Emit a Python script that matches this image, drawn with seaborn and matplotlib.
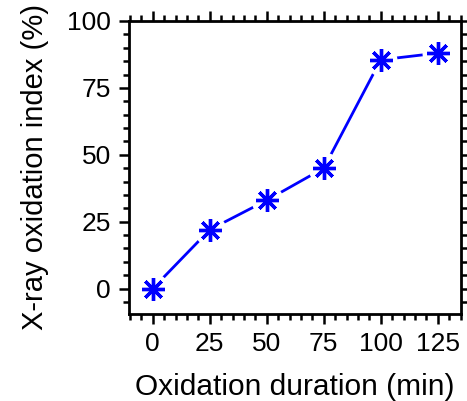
import matplotlib
matplotlib.use("Agg")
import matplotlib.pyplot as plt
from matplotlib.ticker import MultipleLocator
import seaborn as sns
import pandas as pd

# Oxidation series
duration_min = [0, 25, 50, 75, 100, 125]
oxidation_index = [0, 22, 33, 45, 85.5, 88]

x_ticks = [0, 25, 50, 75, 100, 125]
y_ticks = [0, 25, 50, 75, 100]

sns.set_theme(style="ticks")
plt.rcParams["font.family"] = ["Liberation Sans", "DejaVu Sans"]
plt.rcParams["text.color"] = "black"
plt.rcParams["axes.labelcolor"] = "black"
plt.rcParams["xtick.color"] = "black"
plt.rcParams["ytick.color"] = "black"

df = pd.DataFrame({"duration": duration_min, "index": oxidation_index})

fig = plt.figure(figsize=(4.67, 4.01), dpi=100)
ax = fig.add_axes([129 / 467, 1 - 314 / 401, (461 - 129) / 467, (314 - 21) / 401])

blue = "#0000ff"
sns.lineplot(data=df, x="duration", y="index", ax=ax, color=blue,
             linewidth=2.0)
for ln in ax.get_lines():
    ln.set_zorder(5)
# white halo so the connecting line stops short of each marker
ax.plot(df["duration"], df["index"], linestyle="none", marker="o",
        markersize=23, markerfacecolor="white", markeredgecolor="white",
        markeredgewidth=0, zorder=10)
ax.plot(df["duration"], df["index"], linestyle="none", marker=(8, 2, 0),
        markersize=16.5, markeredgewidth=2.4, color=blue, zorder=11)

ax.set_xlim(-10.4, 135.2)
ax.set_ylim(-9.5, 100)
ax.set_xticks(x_ticks)
ax.set_yticks(y_ticks)
ax.xaxis.set_minor_locator(MultipleLocator(5))
ax.yaxis.set_minor_locator(MultipleLocator(5))

for s in ax.spines.values():
    s.set_visible(True)
    s.set_linewidth(2.0)
    s.set_color("black")
    s.set_zorder(12)

ax.tick_params(which="both", direction="out", top=True, right=True,
               labeltop=False, labelright=False, color="black",
               labelcolor="black", width=1.8)
ax.tick_params(which="major", length=7, labelsize=19, pad=6)
ax.tick_params(which="minor", length=4.5)

ax.set_xlabel("Oxidation duration (min)", fontsize=21.5, labelpad=12)
ax.set_ylabel("X-ray oxidation index (%)", fontsize=21, labelpad=13)

fig.savefig("out.png", dpi=100)
